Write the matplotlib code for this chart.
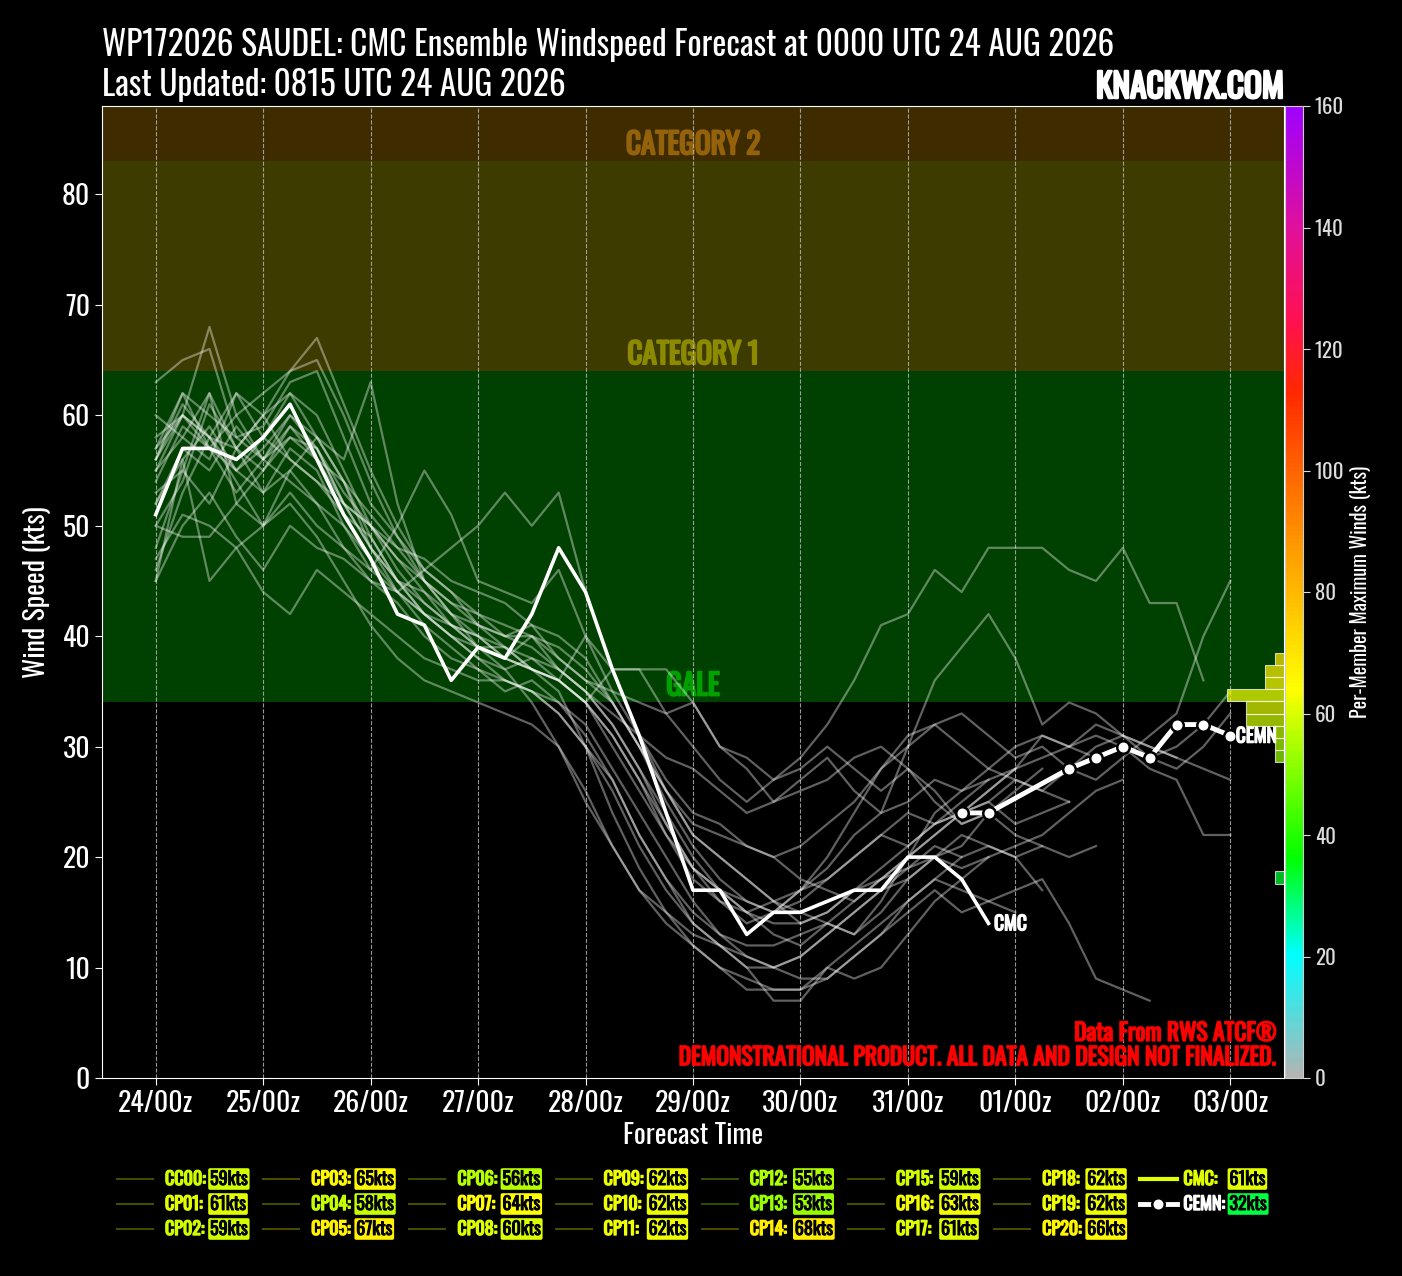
import numpy as np
import matplotlib
matplotlib.use("Agg")
from matplotlib import pyplot as plt
from matplotlib import patheffects as pe
from matplotlib.colors import LinearSegmentedColormap, Normalize
from matplotlib.cm import ScalarMappable
from matplotlib.lines import Line2D

plt.rcParams['font.family'] = ['Oswald', 'DejaVu Sans']


def heavy(color, lw=1.3):
    # Oswald here has only one weight, so thicken the glyphs with a stroke
    return [pe.withStroke(linewidth=lw, foreground=color)]


# forecast hours every 6h from 0000 UTC 24 AUG
step_hours = 6
x_tick_labels = ["24/00z", "25/00z", "26/00z", "27/00z", "28/00z", "29/00z",
                 "30/00z", "31/00z", "01/00z", "02/00z", "03/00z"]

member_names = ["CC00", "CP01", "CP02", "CP03", "CP04", "CP05", "CP06", "CP07",
                "CP08", "CP09", "CP10", "CP11", "CP12", "CP13", "CP14", "CP15",
                "CP16", "CP17", "CP18", "CP19", "CP20"]

cc00 = [52, 56, 59, 55, 53, 57, 55, 50, 46, 44, 42, 40, 38, 37, 38, 36, 34, 30, 26, 22, 19, 17, 15, 16, 14, 15, 17, 18, 20, 22, 24, 25, 27, 26, 28, 30, 31, 30, 29, 28, 27]
cp01 = [56, 61, 58, 55, 57, 60, 57, 52, 48, 45, 44, 41, 40, 38, 40, 37, 35, 32, 28, 24, 20, 17, 15, 13, 12, 14, 16, 18, 19, 21, 20]
cp02 = [50, 49, 49, 52, 55, 59, 56, 52, 50, 47, 45, 42, 39, 37, 34, 30, 25, 21, 17, 15, 13, 12, 10, 10, 11, 13, 15, 17, 19, 20, 21, 24]
cp03 = [55, 60, 58, 62, 60, 64, 65, 60, 54, 49, 45, 43, 42, 40, 41, 38, 36, 34, 30, 25, 21, 18, 16, 15, 17, 19, 22, 24, 25, 27, 26, 27]
cp04 = [46, 53, 58, 54, 50, 52, 49, 45, 41, 38, 36, 35, 34, 33, 32, 30, 26, 21, 17, 14, 12, 10, 9, 8, 8, 9, 11, 13, 16, 18, 20, 21, 20, 21]
cp05 = [54, 59, 57, 60, 62, 64, 67, 61, 55, 50, 46, 44, 41, 40, 39, 37, 35, 32, 28, 23, 19, 17, 16, 15, 16, 18, 20, 22, 21, 23, 24, 25, 23, 24, 25]
cp06 = [45, 56, 45, 48, 44, 42, 46, 44, 42, 40, 38, 37, 36, 36, 35, 34, 32, 28, 24, 20, 16, 13, 11, 10, 9, 9, 11, 13, 15, 17, 15, 16, 17, 18, 14, 9, 8, 7]
cp07 = [57, 62, 60, 58, 59, 63, 64, 58, 52, 49, 46, 44, 42, 41, 40, 38, 36, 35, 34, 33, 34, 30, 29, 27, 28, 30, 28, 26, 28, 25, 23, 24, 26, 28]
cp08 = [53, 55, 52, 57, 60, 56, 54, 52, 50, 46, 43, 41, 39, 39, 37, 35, 30, 24, 19, 15, 12, 10, 8, 8, 8, 10, 12, 14, 16, 18, 17, 16, 15]
cp09 = [60, 58, 62, 57, 55, 58, 56, 54, 51, 48, 45, 43, 41, 39, 37, 36, 34, 37, 37, 37, 34, 30, 28, 25, 26, 27, 29, 30, 28, 26, 23, 24, 22, 21, 20, 21]
cp10 = [56, 62, 57, 53, 56, 60, 58, 54, 49, 45, 42, 40, 38, 36, 35, 33, 30, 27, 22, 18, 14, 12, 10, 7, 7, 10, 9, 10, 13, 16, 18, 20, 21, 22, 24, 26, 27]
cp11 = [48, 55, 62, 52, 50, 55, 58, 54, 48, 44, 41, 39, 37, 35, 36, 34, 31, 27, 22, 18, 15, 13, 12, 12, 13, 14, 13, 15, 18, 20, 19, 20]
cp12 = [47, 51, 50, 48, 50, 53, 50, 48, 46, 50, 55, 51, 45, 44, 43, 46, 40, 35, 31, 27, 24, 23, 21, 20, 18, 17, 16, 18, 20, 22, 24, 26, 28, 31, 30, 32, 31, 30, 29]
cp13 = [45, 50, 53, 49, 46, 50, 48, 47, 45, 44, 46, 48, 50, 53, 50, 53, 44, 37, 31, 26, 22, 20, 18, 16, 15, 14, 13, 16, 20, 24, 26, 28, 30, 31, 30, 29, 30, 28, 27, 22, 22]
cp14 = [57, 60, 68, 60, 56, 58, 57, 53, 50, 48, 47, 45, 44, 43, 41, 40, 38, 34, 30, 26, 22, 20, 18, 16, 17, 18, 20, 22, 24, 23, 24, 26, 28]
cp15 = [52, 57, 55, 59, 56, 54, 52, 50, 47, 44, 42, 41, 40, 38, 37, 36, 34, 31, 27, 23, 19, 16, 14, 15, 17, 20, 24, 28, 31, 32, 33, 31, 29, 30, 28, 27, 29, 31, 33, 40, 45]
cp16 = [56, 60, 58, 57, 60, 62, 58, 56, 63, 52, 45, 42, 41, 40, 40, 39, 37, 34, 30, 26, 23, 22, 21, 20, 21, 23, 25, 28, 30, 32, 30, 28, 27, 26, 25]
cp17 = [50, 54, 61, 57, 53, 55, 52, 48, 45, 43, 40, 38, 37, 36, 35, 33, 30, 26, 21, 17, 14, 12, 11, 10, 11, 13, 15, 17, 18, 20, 22, 21, 20, 17]
cp18 = [55, 58, 56, 62, 58, 56, 54, 51, 49, 45, 42, 40, 39, 38, 37, 36, 40, 37, 37, 33, 30, 27, 25, 27, 29, 32, 36, 41, 42, 46, 44, 48, 48, 48, 46, 45, 48, 43, 43, 36]
cp19 = [58, 60, 57, 55, 58, 62, 60, 55, 50, 47, 44, 42, 40, 39, 38, 37, 35, 33, 31, 29, 28, 26, 24, 25, 27, 29, 26, 24, 30, 36, 39, 42, 38, 32, 34, 33, 31, 29, 30, 32, 35]
cp20 = [63, 65, 66, 58, 56, 59, 57, 52, 48, 45, 43, 41, 39, 38, 37, 36, 34, 31, 27, 22, 18, 16, 15, 14, 14, 15, 17, 19, 21, 23, 25, 27, 28, 29, 30, 31, 30, 29, 28, 30, 33]
members = [cc00, cp01, cp02, cp03, cp04, cp05, cp06, cp07, cp08, cp09, cp10,
           cp11, cp12, cp13, cp14, cp15, cp16, cp17, cp18, cp19, cp20]

cmc_winds = [51, 57, 57, 56, 58, 61, 56, 51, 47, 42, 41, 36, 39, 38, 42, 48,
             44, 37, 31, 24, 17, 17, 13, 15, 15, 16, 17, 17, 20, 20, 18, 14]
cemn_hours = [180, 186, 204, 210, 216, 222, 228, 234, 240]
cemn_winds = [24, 24, 28, 29, 30, 29, 32, 32, 31]

# wind thresholds
gale, cat1, cat2 = 34, 64, 83

cmap = LinearSegmentedColormap.from_list("wind", [
    (0 / 160, "#b4b4b4"), (20 / 160, "#00ffff"), (36 / 160, "#00ff00"),
    (64 / 160, "#ffff00"), (82 / 160, "#ffb000"), (100 / 160, "#ff6400"),
    (113 / 160, "#ff2800"), (125 / 160, "#ff1050"), (140 / 160, "#e0109a"),
    (160 / 160, "#a000ff")])
norm = Normalize(0, 160)

W, H = 1402, 1276
fig = plt.figure(figsize=(W / 100, H / 100), dpi=100, facecolor="black")
ax = fig.add_axes([102 / W, 1 - 1078 / H, 1182 / W, 972 / H])
ax.set_facecolor("black")
ax.set_xlim(-12, 252)
ax.set_ylim(0, 88)

ax.axhspan(gale, cat1, color="#004000", zorder=0.2, lw=0)
ax.axhspan(cat1, cat2, color="#3d3b00", zorder=0.2, lw=0)
ax.axhspan(cat2, 200, color="#3f2b00", zorder=0.2, lw=0)
for yv, name, col in [(cat2, "CATEGORY 2", "#94620a"), (cat1, "CATEGORY 1", "#8c8a00"),
                      (gale, "GALE", "#00a000")]:
    ax.text(120, yv + 1.5, name, ha="center", va="center", color=col, fontsize=21,
            zorder=1, path_effects=heavy(col, 1.5))

for w in members:
    hrs = np.arange(len(w)) * step_hours
    ax.plot(hrs, w, color="white", alpha=0.38, lw=1.6, zorder=2)

cmc_hours = np.arange(len(cmc_winds)) * step_hours
ax.plot(cmc_hours, cmc_winds, color="white", lw=2.6, zorder=4)
ax.annotate("CMC", (cmc_hours[-1], cmc_winds[-1]), xytext=(4, 0), textcoords="offset points",
            color="white", fontsize=14, va="center", zorder=6, path_effects=heavy("white", 1))
ax.plot(cemn_hours, cemn_winds, color="white", lw=3.5, marker="o", ms=9,
        mec="black", mew=1.8, zorder=5)
ax.annotate("CEMN", (cemn_hours[-1], cemn_winds[-1]), xytext=(4, 0), textcoords="offset points",
            color="white", fontsize=14, va="center", zorder=6, path_effects=heavy("white", 1))

ax.set_xticks(np.arange(0, 241, 24))
ax.set_xticklabels(x_tick_labels)
ax.set_yticks(np.arange(0, 81, 10))
ax.grid(axis="x", color="#bbbbbb", ls="--", lw=0.8, alpha=0.8, zorder=0.5)
ax.tick_params(colors="white", labelsize=20, length=5)
for s in ax.spines.values():
    s.set_color("white")
ax.set_ylabel("Wind Speed (kts)", color="white", fontsize=20, labelpad=8)
ax.set_xlabel("Forecast Time", color="white", fontsize=20, labelpad=4)

ax.text(0.994, 0.046, "Data From RWS ATCF®", transform=ax.transAxes, ha="right",
        va="center", color="red", fontsize=17, zorder=7, path_effects=heavy("red", 1.2))
ax.text(0.994, 0.021, "DEMONSTRATIONAL PRODUCT. ALL DATA AND DESIGN NOT FINALIZED.",
        transform=ax.transAxes, ha="right", va="center", color="red", fontsize=17,
        zorder=7, path_effects=heavy("red", 1.2))

# histogram of per-member maximum winds, on the colorbar scale
max_winds = [max(w) for w in members] + [max(cmc_winds), max(cemn_winds)]
counts, edges = np.histogram(max_winds, bins=np.arange(0, 162, 2))
keep = counts > 0
hax = fig.add_axes(ax.get_position(), facecolor="none")
hax.set_ylim(0, 160)
hax.set_xlim(125, 0)
hax.barh(edges[:-1][keep], counts[keep], height=2, align="edge",
         color=cmap(norm(edges[:-1][keep] + 1)), alpha=0.72,
         edgecolor=(1, 1, 1, 0.35), lw=0.8)
hax.axis("off")

cax = fig.add_axes([1285 / W, 1 - 1078 / H, 18 / W, 972 / H])
cb = fig.colorbar(ScalarMappable(norm=norm, cmap=cmap), cax=cax)
cb.set_ticks(np.arange(0, 161, 20))
cb.ax.tick_params(colors="#dddddd", labelsize=15, length=5)
cb.outline.set_edgecolor("#cccccc")
cb.set_label("Per-Member Maximum Winds (kts)", color="white", fontsize=14.5, labelpad=4)

fig.text(102 / W, 1 - 45 / H, "WP172026 SAUDEL: CMC Ensemble Windspeed Forecast at 0000 UTC 24 AUG 2026",
         color="white", fontsize=24, va="center")
fig.text(102 / W, 1 - 85 / H, "Last Updated: 0815 UTC 24 AUG 2026",
         color="white", fontsize=24, va="center")
fig.text(1284 / W, 1 - 87 / H, "KNACKWX.COM", color="white", fontsize=24,
         ha="right", va="center", path_effects=heavy("white", 1.8))

# legend grid, column-major
entries = [(n, max(w), cmap(norm(max(w)))) for n, w in zip(member_names, members)]
col_x = 117
for i, (name, mx, col) in enumerate(entries):
    c, r = divmod(i, 3)
    x0 = (col_x + c * 146.2) / W
    y0 = 1 - (1179 + r * 25) / H
    fig.add_artist(Line2D([x0, x0 + 36 / W], [y0, y0], color=col, alpha=0.3, lw=1.5))
    fig.text(x0 + 48 / W, y0, name + ":", color=col, fontsize=13, va="center",
             path_effects=heavy(col, 1))
    fig.text(x0 + 93 / W, y0, f"{mx}kts", color="black", fontsize=13, va="center",
             path_effects=heavy("black", 0.7),
             bbox=dict(boxstyle="round,pad=0.1", fc=col, ec="none"))

x0 = (col_x + 7 * 146.2) / W
cmc_col = cmap(norm(max(cmc_winds)))
y0 = 1 - 1179 / H
fig.add_artist(Line2D([x0, x0 + 37 / W], [y0, y0], color=cmc_col, lw=3))
fig.text(x0 + 43 / W, y0, "CMC:", color=cmc_col, fontsize=13, va="center",
         path_effects=heavy(cmc_col, 1))
fig.text(x0 + 89 / W, y0, f"{max(cmc_winds)}kts", color="black", fontsize=13, va="center",
         path_effects=heavy("black", 0.7),
         bbox=dict(boxstyle="round,pad=0.1", fc=cmc_col, ec="none"))
y0 = 1 - 1204 / H
cemn_col = cmap(norm(max(cemn_winds)))
fig.add_artist(Line2D([x0, x0 + 18 / W, x0 + 37 / W], [y0, y0, y0], color="white", lw=3.5,
                      marker="o", markevery=[1], ms=9, mec="black", mew=1.8))
fig.text(x0 + 43 / W, y0, "CEMN:", color="white", fontsize=13, va="center",
         path_effects=heavy("white", 1))
fig.text(x0 + 89 / W, y0, f"{max(cemn_winds)}kts", color="black", fontsize=13, va="center",
         path_effects=heavy("black", 0.7),
         bbox=dict(boxstyle="round,pad=0.1", fc=cemn_col, ec="none"))

fig.savefig("out.png", dpi=100, facecolor="black")
